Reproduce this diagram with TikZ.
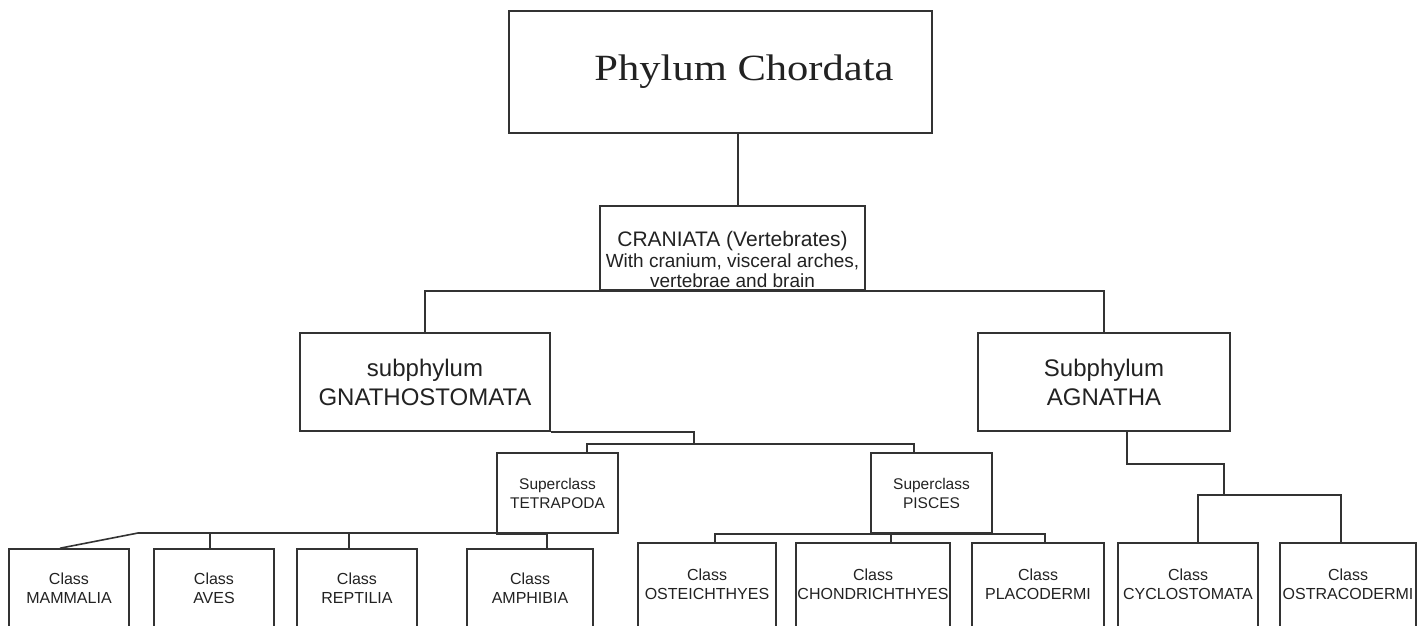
\documentclass[tikz,border=0pt]{standalone}
\usepackage{fontspec}
\setmainfont{Liberation Sans}
\newfontfamily\phylfont[FakeStretch=1.15]{Liberation Serif}
\definecolor{linec}{HTML}{333333}
\definecolor{txtc}{HTML}{222222}
\newcommand\lowpad[1]{\rule[-#1]{0pt}{#1}}
\tikzset{
  box/.style={draw=linec, line width=1.6pt, rectangle, inner sep=0pt, align=center, text=txtc},
  conn/.style={draw=linec, line width=1.6pt},
  classbox/.style={box, minimum height=86pt, font=\fontsize{16}{19}\selectfont},
  superbox/.style={box, minimum width=121pt, minimum height=80pt, font=\fontsize{15.5}{19}\selectfont},
  subbox/.style={box, minimum height=98pt, font=\fontsize{24}{29}\selectfont},
}
\begin{document}
\begin{tikzpicture}[x=1pt, y=-1pt]
\useasboundingbox (0,0) rectangle (1422,625);
\clip (0,0) rectangle (1422,625);
\fill[white] (0,0) rectangle (1422,625);

% top
\node[box, minimum width=423pt, minimum height=122pt, font=\phylfont\fontsize{37}{40}\selectfont] (phyl) at (720.5,72) {\hspace*{47pt}Phylum Chordata};
\node[box, minimum width=265pt, minimum height=84pt, font=\fontsize{19}{20}\selectfont] (cran) at (732.5,248)
  {\rule{0pt}{38pt}{\fontsize{21}{21}\selectfont CRANIATA (Vertebrates)}\\[1pt]With cranium, visceral arches,\\vertebrae and brain};

% subphyla
\node[subbox, minimum width=250pt] (gnat) at (425,382) {subphylum\\GNATHOSTOMATA};
\node[subbox, minimum width=252pt] (agna) at (1104,382) {Subphylum\\AGNATHA};

% superclasses
\node[superbox] (tetra) at (557.5,493) {Superclass\\TETRAPODA};
\node[superbox] (pisc) at (931.5,493) {Superclass\\PISCES};

% classes (left group): top at 549
\node[classbox, minimum width=120pt] (mamm) at (69,592) {Class\\MAMMALIA\lowpad{8pt}};
\node[classbox, minimum width=120pt] (aves) at (214,592) {Class\\AVES\lowpad{8pt}};
\node[classbox, minimum width=120pt] (rept) at (357,592) {Class\\REPTILIA\lowpad{8pt}};
\node[classbox, minimum width=126pt] (amph) at (530,592) {Class\\AMPHIBIA\lowpad{8pt}};

% classes (right groups): top at 543
\node[classbox, minimum width=138pt] (oste) at (707,586) {Class\\OSTEICHTHYES\lowpad{4pt}};
\node[classbox, minimum width=154pt] (chon) at (873,586) {Class\\CHONDRICHTHYES\lowpad{4pt}};
\node[classbox, minimum width=132pt] (plac) at (1038,586) {Class\\PLACODERMI\lowpad{4pt}};
\node[classbox, minimum width=140pt] (cycl) at (1188,586) {Class\\CYCLOSTOMATA\lowpad{4pt}};
\node[classbox, minimum width=136pt] (ostr) at (1348,586) {Class\\OSTRACODERMI\lowpad{4pt}};

% junction coordinates
\coordinate (gj) at (694,444);
\coordinate (tj) at (138,533);
\coordinate (aj) at (1224,495);

% connectors
\draw[conn] ([xshift=5.5pt]cran.north) -- ([xshift=5.5pt]cran.north |- phyl.south);
\draw[conn] (gnat.north) |- (cran.south) -| (agna.north);

\draw[conn] (gnat.south east) -| (gj);
\draw[conn] ([xshift=29.5pt]tetra.north) |- (gj) -| ([xshift=-17.5pt]pisc.north);

\draw[conn] ([xshift=-9pt]mamm.north) -- (tj) -- (tj -| tetra.south west);
\draw[conn] (tetra.south west) -| ([xshift=17pt]amph.north);
\draw[conn] ([xshift=-4pt]aves.north) -- ([xshift=-4pt]aves.north |- tetra.south);
\draw[conn] ([xshift=-8pt]rept.north) -- ([xshift=-8pt]rept.north |- tetra.south);

\draw[conn] ([xshift=8pt]oste.north) |- (pisc.south) -| ([xshift=7pt]plac.north);
\draw[conn] ([xshift=18pt]chon.north) -- ([xshift=18pt]chon.north |- pisc.south);

\draw[conn] ([xshift=23pt]agna.south) -- ++(0,32) -| (aj);
\draw[conn] ([xshift=10pt]cycl.north) |- (aj) -| ([xshift=-7pt]ostr.north);
\end{tikzpicture}
\end{document}
